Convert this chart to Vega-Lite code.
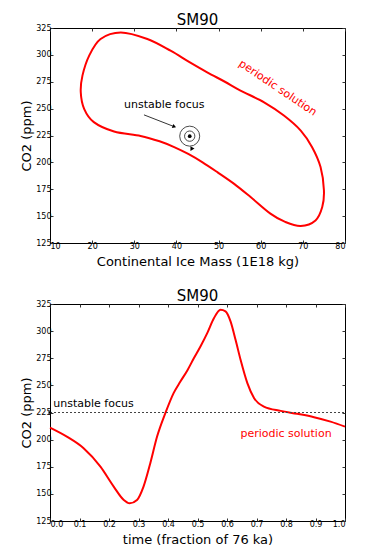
{
  "$schema": "https://vega.github.io/schema/vega-lite/v6.json",
  "padding": {"left": 20, "top": 12, "right": 5, "bottom": 0},
  "config": {
    "font": "DejaVu Sans",
    "view": {"stroke": "black", "strokeWidth": 1},
    "axis": {"domain": false, "grid": false, "ticks": true, "tickSize": -3, "tickColor": "#333", "labelFontSize": 8, "labelColor": "black", "titleFontSize": 13, "titleFontWeight": "normal", "titleColor": "black", "labelPadding": 2, "labelFont": "DejaVu Sans", "titleFont": "DejaVu Sans"},
    "title": {"fontSize": 15, "fontWeight": "normal", "color": "black", "offset": -4, "frame": "group", "font": "DejaVu Sans"},
    "text": {"font": "DejaVu Sans"},
    "concat": {"spacing": 19}
  },
  "vconcat": [
    {
      "title": "SM90",
      "width": 295,
      "height": 215,
      "layer": [
        {
          "data": {"values": [
            {"i": 0, "ice": 26.8, "co2": 320.9},
            {"i": 1, "ice": 33.1, "co2": 314.8},
            {"i": 2, "ice": 38.6, "co2": 303.9},
            {"i": 3, "ice": 43.0, "co2": 293.5},
            {"i": 4, "ice": 47.3, "co2": 283.8},
            {"i": 5, "ice": 51.5, "co2": 275.0},
            {"i": 6, "ice": 55.2, "co2": 266.8},
            {"i": 7, "ice": 60.8, "co2": 255.9},
            {"i": 8, "ice": 65.5, "co2": 243.6},
            {"i": 9, "ice": 69.5, "co2": 229.6},
            {"i": 10, "ice": 72.2, "co2": 214.1},
            {"i": 11, "ice": 74.2, "co2": 195.6},
            {"i": 12, "ice": 75.0, "co2": 174.0},
            {"i": 13, "ice": 74.6, "co2": 158.4},
            {"i": 14, "ice": 73.0, "co2": 146.0},
            {"i": 15, "ice": 69.5, "co2": 140.8},
            {"i": 16, "ice": 65.8, "co2": 144.6},
            {"i": 17, "ice": 62.3, "co2": 152.3},
            {"i": 18, "ice": 57.6, "co2": 167.7},
            {"i": 19, "ice": 53.7, "co2": 180.0},
            {"i": 20, "ice": 49.7, "co2": 190.9},
            {"i": 21, "ice": 46.2, "co2": 200.0},
            {"i": 22, "ice": 42.8, "co2": 207.8},
            {"i": 23, "ice": 39.6, "co2": 214.0},
            {"i": 24, "ice": 36.0, "co2": 219.6},
            {"i": 25, "ice": 31.5, "co2": 224.6},
            {"i": 26, "ice": 25.2, "co2": 228.7},
            {"i": 27, "ice": 20.4, "co2": 237.4},
            {"i": 28, "ice": 18.1, "co2": 249.8},
            {"i": 29, "ice": 17.3, "co2": 265.2},
            {"i": 30, "ice": 17.7, "co2": 280.7},
            {"i": 31, "ice": 19.3, "co2": 299.3},
            {"i": 32, "ice": 22.0, "co2": 314.8}
          ]},
          "mark": {"type": "line", "color": "red", "strokeWidth": 2, "interpolate": "cardinal-closed"},
          "encoding": {
            "x": {"field": "ice", "type": "quantitative", "scale": {"domain": [10, 80], "nice": false, "zero": false}, "axis": {"values": [10, 20, 30, 40, 50, 60, 70, 80], "title": "Continental Ice Mass (1E18 kg)", "titlePadding": 5}},
            "y": {"field": "co2", "type": "quantitative", "scale": {"domain": [125, 325], "nice": false, "zero": false}, "axis": {"values": [125, 150, 175, 200, 225, 250, 275, 300, 325], "title": "CO2 (ppm)", "titlePadding": 2}},
            "order": {"field": "i", "type": "quantitative"}
          }
        },
        {
          "data": {"values": [{"ice": 43.15, "co2": 224.4}]},
          "mark": {"type": "point", "filled": false, "stroke": "black", "strokeWidth": 1, "size": 401},
          "encoding": {
            "x": {"field": "ice", "type": "quantitative", "scale": {"domain": [10, 80], "nice": false, "zero": false}, "axis": {"orient": "top", "values": [10, 20, 30, 40, 50, 60, 70, 80], "labels": false, "title": null}},
            "y": {"field": "co2", "type": "quantitative", "scale": {"domain": [125, 325], "nice": false, "zero": false}, "axis": {"orient": "right", "values": [125, 150, 175, 200, 225, 250, 275, 300, 325], "labels": false, "title": null}}
          }
        },
        {
          "data": {"values": [{"ice": 43.15, "co2": 224.4}]},
          "mark": {"type": "point", "filled": false, "stroke": "black", "strokeWidth": 1, "size": 106},
          "encoding": {
            "x": {"field": "ice", "type": "quantitative", "scale": {"domain": [10, 80], "nice": false, "zero": false}, "axis": null},
            "y": {"field": "co2", "type": "quantitative", "scale": {"domain": [125, 325], "nice": false, "zero": false}, "axis": null}
          }
        },
        {
          "data": {"values": [{"ice": 43.15, "co2": 224.4}]},
          "mark": {"type": "point", "filled": true, "color": "black", "opacity": 1, "size": 14},
          "encoding": {
            "x": {"field": "ice", "type": "quantitative", "scale": {"domain": [10, 80], "nice": false, "zero": false}, "axis": null},
            "y": {"field": "co2", "type": "quantitative", "scale": {"domain": [125, 325], "nice": false, "zero": false}, "axis": null}
          }
        },
        {
          "data": {"values": [{"ice": 43.8, "co2": 212.8}]},
          "mark": {"type": "point", "filled": true, "shape": "triangle-right", "color": "black", "opacity": 1, "size": 22},
          "encoding": {
            "x": {"field": "ice", "type": "quantitative", "scale": {"domain": [10, 80], "nice": false, "zero": false}, "axis": null},
            "y": {"field": "co2", "type": "quantitative", "scale": {"domain": [125, 325], "nice": false, "zero": false}, "axis": null}
          }
        },
        {
          "data": {"values": [{"ice": 32.3, "co2": 244.2, "ice2": 39.5, "co22": 233.2}]},
          "mark": {"type": "rule", "color": "black", "strokeWidth": 0.8},
          "encoding": {
            "x": {"field": "ice", "type": "quantitative", "scale": {"domain": [10, 80], "nice": false, "zero": false}, "axis": null},
            "y": {"field": "co2", "type": "quantitative", "scale": {"domain": [125, 325], "nice": false, "zero": false}, "axis": null},
            "x2": {"field": "ice2"},
            "y2": {"field": "co22"}
          }
        },
        {
          "data": {"values": [{"ice": 39.5, "co2": 233.2}]},
          "mark": {"type": "point", "filled": true, "shape": "triangle-right", "angle": 21, "color": "black", "opacity": 1, "size": 18},
          "encoding": {
            "x": {"field": "ice", "type": "quantitative", "scale": {"domain": [10, 80], "nice": false, "zero": false}, "axis": null},
            "y": {"field": "co2", "type": "quantitative", "scale": {"domain": [125, 325], "nice": false, "zero": false}, "axis": null}
          }
        },
        {
          "data": {"values": [{"ice": 37.1, "co2": 253.8, "label": "unstable focus"}]},
          "mark": {"type": "text", "color": "black", "fontSize": 11, "align": "center", "baseline": "middle"},
          "encoding": {
            "x": {"field": "ice", "type": "quantitative", "scale": {"domain": [10, 80], "nice": false, "zero": false}, "axis": null},
            "y": {"field": "co2", "type": "quantitative", "scale": {"domain": [125, 325], "nice": false, "zero": false}, "axis": null},
            "text": {"field": "label"}
          }
        },
        {
          "data": {"values": [{"ice": 64.0, "co2": 269.0, "label": "periodic solution"}]},
          "mark": {"type": "text", "color": "red", "fontSize": 11, "align": "center", "baseline": "middle", "angle": 34},
          "encoding": {
            "x": {"field": "ice", "type": "quantitative", "scale": {"domain": [10, 80], "nice": false, "zero": false}, "axis": null},
            "y": {"field": "co2", "type": "quantitative", "scale": {"domain": [125, 325], "nice": false, "zero": false}, "axis": null},
            "text": {"field": "label"}
          }
        }
      ],
      "resolve": {"axis": {"x": "independent", "y": "independent"}}
    },
    {
      "title": "SM90",
      "width": 295,
      "height": 217,
      "layer": [
        {
          "data": {"values": [
            {"t": 0.0, "co2": 211.1},
            {"t": 0.057, "co2": 202.8},
            {"t": 0.114, "co2": 192.1},
            {"t": 0.171, "co2": 175.1},
            {"t": 0.216, "co2": 156.7},
            {"t": 0.25, "co2": 144.4},
            {"t": 0.27, "co2": 141.3},
            {"t": 0.295, "co2": 144.4},
            {"t": 0.317, "co2": 156.7},
            {"t": 0.34, "co2": 178.3},
            {"t": 0.363, "co2": 202.8},
            {"t": 0.391, "co2": 224.4},
            {"t": 0.419, "co2": 242.9},
            {"t": 0.442, "co2": 253.5},
            {"t": 0.466, "co2": 264.0},
            {"t": 0.488, "co2": 275.2},
            {"t": 0.51, "co2": 285.9},
            {"t": 0.533, "co2": 298.2},
            {"t": 0.556, "co2": 312.1},
            {"t": 0.578, "co2": 319.7},
            {"t": 0.595, "co2": 318.2},
            {"t": 0.612, "co2": 309.0},
            {"t": 0.629, "co2": 292.0},
            {"t": 0.646, "co2": 273.6},
            {"t": 0.669, "co2": 252.1},
            {"t": 0.692, "co2": 238.2},
            {"t": 0.725, "co2": 230.5},
            {"t": 0.782, "co2": 226.5},
            {"t": 0.838, "co2": 223.8},
            {"t": 0.895, "co2": 220.7},
            {"t": 0.951, "co2": 216.6},
            {"t": 1.0, "co2": 212.0}
          ]},
          "mark": {"type": "line", "color": "red", "strokeWidth": 2, "interpolate": "monotone"},
          "encoding": {
            "x": {"field": "t", "type": "quantitative", "scale": {"domain": [0, 1], "nice": false}, "axis": {"values": [0, 0.1, 0.2, 0.3, 0.4, 0.5, 0.6, 0.7, 0.8, 0.9, 1.0], "format": ".1f", "title": "time (fraction of 76 ka)", "titlePadding": 5}},
            "y": {"field": "co2", "type": "quantitative", "scale": {"domain": [125, 325], "nice": false, "zero": false}, "axis": {"values": [125, 150, 175, 200, 225, 250, 275, 300, 325], "title": "CO2 (ppm)", "titlePadding": 2}}
          }
        },
        {
          "data": {"values": [{"t": 0, "co2": 225, "t2": 1}]},
          "mark": {"type": "rule", "color": "#444", "strokeWidth": 1, "strokeDash": [2, 2]},
          "encoding": {
            "x": {"field": "t", "type": "quantitative", "scale": {"domain": [0, 1], "nice": false}, "axis": {"orient": "top", "values": [0, 0.1, 0.2, 0.3, 0.4, 0.5, 0.6, 0.7, 0.8, 0.9, 1.0], "labels": false, "title": null}},
            "x2": {"field": "t2"},
            "y": {"field": "co2", "type": "quantitative", "scale": {"domain": [125, 325], "nice": false, "zero": false}, "axis": {"orient": "right", "values": [125, 150, 175, 200, 225, 250, 275, 300, 325], "labels": false, "title": null}}
          }
        },
        {
          "data": {"values": [{"t": 0, "co2": 225}]},
          "mark": {"type": "point", "filled": true, "shape": "triangle-right", "color": "black", "opacity": 1, "size": 12},
          "encoding": {
            "x": {"field": "t", "type": "quantitative", "scale": {"domain": [0, 1], "nice": false}, "axis": null},
            "y": {"field": "co2", "type": "quantitative", "scale": {"domain": [125, 325], "nice": false, "zero": false}, "axis": null}
          }
        },
        {
          "data": {"values": [{"t": 0.011, "co2": 233, "label": "unstable focus"}]},
          "mark": {"type": "text", "color": "black", "fontSize": 11, "align": "left", "baseline": "middle"},
          "encoding": {
            "x": {"field": "t", "type": "quantitative", "scale": {"domain": [0, 1], "nice": false}, "axis": null},
            "y": {"field": "co2", "type": "quantitative", "scale": {"domain": [125, 325], "nice": false, "zero": false}, "axis": null},
            "text": {"field": "label"}
          }
        },
        {
          "data": {"values": [{"t": 0.8, "co2": 205.3, "label": "periodic solution"}]},
          "mark": {"type": "text", "color": "red", "fontSize": 11, "align": "center", "baseline": "middle"},
          "encoding": {
            "x": {"field": "t", "type": "quantitative", "scale": {"domain": [0, 1], "nice": false}, "axis": null},
            "y": {"field": "co2", "type": "quantitative", "scale": {"domain": [125, 325], "nice": false, "zero": false}, "axis": null},
            "text": {"field": "label"}
          }
        }
      ],
      "resolve": {"axis": {"x": "independent", "y": "independent"}}
    }
  ]
}
